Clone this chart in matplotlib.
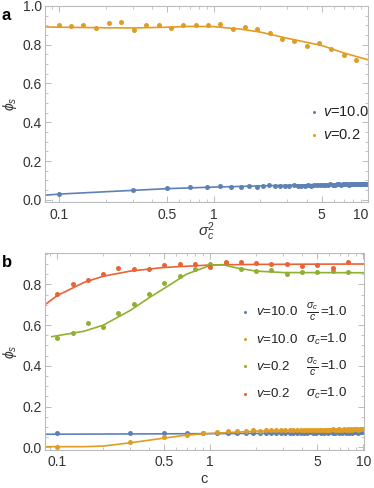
import numpy as np
import matplotlib
matplotlib.use("Agg")
import matplotlib.pyplot as plt
from matplotlib.ticker import FixedLocator, NullFormatter

plt.rcParams['font.family'] = ['Liberation Sans', 'DejaVu Sans']
plt.rcParams['mathtext.fontset'] = 'custom'
plt.rcParams['mathtext.it'] = 'Liberation Sans:italic'
plt.rcParams['mathtext.rm'] = 'Liberation Sans'

BLUE = '#5E81B5'
ORANGE = '#E19C24'
GREEN = '#8FB032'
RED = '#EB6235'

# ---------------- Panel a data ----------------
a_orange_x = [0.1, 0.12, 0.142, 0.172, 0.211, 0.253, 0.304, 0.364, 0.444, 0.526,
              0.632, 0.771, 0.919, 1.10, 1.33, 1.60, 1.92, 2.31, 2.78, 3.31,
              4.0, 4.81, 5.75, 6.98, 8.36]
a_orange_y = [0.900, 0.896, 0.900, 0.886, 0.913, 0.917, 0.874, 0.900, 0.903, 0.884,
              0.900, 0.903, 0.903, 0.905, 0.879, 0.893, 0.879, 0.862, 0.829, 0.817,
              0.791, 0.808, 0.779, 0.747, 0.721]
a_orange_line_x = [0.08, 0.1, 0.2, 0.3, 0.5, 0.7, 1.0, 1.5, 2.0, 3.0, 5.0, 7.0, 10.0]
a_orange_line_y = [0.891, 0.890, 0.887, 0.886, 0.890, 0.894, 0.893, 0.880, 0.865, 0.833, 0.796, 0.757, 0.722]

a_blue_x = [0.1, 0.3, 0.5, 0.7, 0.9, 1.1, 1.3, 1.5, 1.7, 1.9, 2.1, 2.3, 2.5, 2.7, 2.9,
            3.1, 3.3, 3.5, 3.7, 3.9, 4.1, 4.3, 4.5, 4.7, 4.9, 5.1, 5.3, 5.5, 5.7, 5.9,
            6.1, 6.3, 6.5, 6.7, 6.9, 7.1, 7.3, 7.5, 7.7, 7.9, 8.1, 8.3, 8.5, 8.7, 8.9,
            9.1, 9.3, 9.5, 9.7, 9.9]
a_blue_y = [0.031, 0.052, 0.059, 0.064, 0.064, 0.071, 0.068, 0.068, 0.071, 0.069,
            0.072, 0.076, 0.070, 0.071, 0.073, 0.072, 0.075, 0.072, 0.074, 0.073,
            0.075, 0.074, 0.078, 0.076, 0.077, 0.075, 0.077, 0.078, 0.080, 0.077,
            0.079, 0.081, 0.080, 0.079, 0.081, 0.080, 0.082, 0.079, 0.081, 0.082,
            0.080, 0.083, 0.082, 0.081, 0.083, 0.084, 0.082, 0.083, 0.084, 0.083]
a_blue_line_x = [0.08, 0.1, 0.5, 1.0, 5.0, 10.0]
a_blue_line_y = [0.024, 0.030, 0.058, 0.066, 0.080, 0.086]

# ---------------- Panel b data ----------------
b_log_x = [0.1, 0.126, 0.158, 0.2, 0.251, 0.316, 0.398, 0.501, 0.631, 0.794,
           1.0, 1.26, 1.58, 2.0, 2.51, 3.16, 3.98, 5.01, 6.31, 7.94]
b_red_y = [0.751, 0.802, 0.821, 0.852, 0.882, 0.874, 0.875, 0.895, 0.898, 0.901,
           0.883, 0.908, 0.910, 0.903, 0.900, 0.900, 0.890, 0.896, 0.880, 0.910]
b_green_y = [0.538, 0.563, 0.609, 0.589, 0.661, 0.703, 0.753, 0.808, 0.841, 0.875,
             0.898, 0.906, 0.877, 0.865, 0.870, 0.849, 0.862, 0.859, 0.865, 0.862]
b_red_line_x = [0.083, 0.1, 0.15, 0.2, 0.3, 0.5, 1.0, 2.0, 10.0]
b_red_line_y = [0.700, 0.745, 0.810, 0.840, 0.865, 0.883, 0.895, 0.898, 0.900]
b_green_line_x = [0.092, 0.1, 0.15, 0.2, 0.3, 0.4, 0.5, 0.7, 1.0, 1.2, 1.5, 2.0, 3.0, 10.0]
b_green_line_y = [0.543, 0.548, 0.570, 0.600, 0.672, 0.735, 0.780, 0.850, 0.893, 0.897, 0.880, 0.865, 0.858, 0.857]

b_lin_x = a_blue_x
b_blue_y = [0.072, 0.072, 0.070, 0.072, 0.068, 0.070, 0.071, 0.072, 0.071, 0.070,
            0.071, 0.072, 0.071, 0.072, 0.071, 0.072, 0.071, 0.072, 0.070, 0.072,
            0.071, 0.072, 0.073, 0.071, 0.072, 0.073, 0.072, 0.071, 0.073, 0.072,
            0.073, 0.072, 0.071, 0.073, 0.072, 0.073, 0.072, 0.073, 0.072, 0.073,
            0.072, 0.073, 0.072, 0.073, 0.074, 0.073, 0.072, 0.073, 0.074, 0.073]
b_orange_y = [0.003, 0.025, 0.049, 0.062, 0.068, 0.074, 0.080, 0.082, 0.079, 0.083,
              0.082, 0.084, 0.083, 0.084, 0.085, 0.084, 0.085, 0.086, 0.084, 0.085,
              0.086, 0.085, 0.086, 0.087, 0.085, 0.086, 0.087, 0.086, 0.087, 0.086,
              0.087, 0.088, 0.086, 0.087, 0.088, 0.087, 0.086, 0.088, 0.087, 0.088,
              0.087, 0.088, 0.087, 0.088, 0.089, 0.088, 0.087, 0.088, 0.089, 0.088]
b_blue_line_x = [0.083, 1.0, 10.0]
b_blue_line_y = [0.064, 0.067, 0.071]
b_orange_line_x = [0.083, 0.15, 0.2, 0.3, 0.5, 0.7, 1.0, 2.0, 5.0, 10.0]
b_orange_line_y = [0.003, 0.003, 0.006, 0.022, 0.045, 0.060, 0.068, 0.079, 0.084, 0.086]

x_major = [0.1, 0.5, 1, 5, 10]
x_major_labels = ['0.1', '0.5', '1', '5', '10']
x_minor = [0.09, 0.2, 0.3, 0.4, 0.6, 0.7, 0.8, 0.9, 2, 3, 4, 6, 7, 8, 9]

fig = plt.figure(figsize=(3.74, 4.88), dpi=100)
ax_a = fig.add_axes([0.120, 0.586, 0.864, 0.402])
ax_b = fig.add_axes([0.120, 0.078, 0.853, 0.404])

FRAME = '#BBBBBB'
TXT = '#333333'
ms = 3.6
lw = 1.2

def style(ax, ymax):
    ax.set_xscale('log')
    ax.xaxis.set_major_locator(FixedLocator(x_major))
    ax.set_xticklabels(x_major_labels)
    ax.xaxis.set_minor_locator(FixedLocator(x_minor))
    ax.xaxis.set_minor_formatter(NullFormatter())
    ax.set_yticks([0.0, 0.2, 0.4, 0.6, 0.8, 1.0] if ymax >= 1 else [0.0, 0.2, 0.4, 0.6, 0.8])
    ax.set_yticks(np.arange(0, ymax + 0.001, 0.05), minor=True)
    for s in ax.spines.values():
        s.set_color(FRAME)
        s.set_linewidth(0.8)
    ax.tick_params(which='both', direction='in', top=True, right=True, colors=FRAME,
                   labelcolor=TXT, labelsize=10)
    ax.tick_params(which='major', length=4, width=0.7)
    ax.tick_params(which='minor', length=2, width=0.6)
    ax.tick_params(axis='x', which='major', pad=4)
    ax.tick_params(axis='y', which='major', pad=2)

# Panel a
ax_a.plot(a_orange_line_x, a_orange_line_y, color=ORANGE, lw=lw)
ax_a.plot(a_blue_line_x, a_blue_line_y, color=BLUE, lw=lw)
ax_a.plot(a_blue_x, a_blue_y, 'o', color=BLUE, ms=ms, mew=0)
ax_a.plot(a_orange_x, a_orange_y, 'o', color=ORANGE, ms=ms, mew=0)
ax_a.set_xlim(0.0807, 10)
ax_a.set_ylim(-0.011, 1.0)
style(ax_a, 1.0)
ax_a.get_xticklabels()[-1].set_horizontalalignment('right')
ax_a.get_xticklabels()[-1].set_x(10)
ax_a.set_ylabel(r'$\phi_s$', color=TXT, fontsize=10, labelpad=3)
ax_a.set_xlabel(r'$\sigma_c^2$', color=TXT, fontsize=11, labelpad=-1)

la = [(r'$v$=10.0', BLUE), (r'$v$=0.2', ORANGE)]
for i, (t, c) in enumerate(la):
    y = 0.46 - i * 0.118
    ax_a.plot([0.833], [y], 'o', color=c, ms=2.2, mew=0, transform=ax_a.transAxes, clip_on=False)
    ax_a.text(0.862, y, t, transform=ax_a.transAxes, fontsize=10.5, color='#222222',
              va='center', ha='left')

# Panel b
ax_b.plot(b_red_line_x, b_red_line_y, color=RED, lw=lw)
ax_b.plot(b_green_line_x, b_green_line_y, color=GREEN, lw=lw)
ax_b.plot(b_blue_line_x, b_blue_line_y, color=BLUE, lw=lw)
ax_b.plot(b_orange_line_x, b_orange_line_y, color=ORANGE, lw=lw)
ax_b.plot(b_lin_x, b_blue_y, 'o', color=BLUE, ms=ms, mew=0)
ax_b.plot(b_lin_x, b_orange_y, 'o', color=ORANGE, ms=ms, mew=0)
ax_b.plot(b_log_x, b_green_y, 'o', color=GREEN, ms=ms, mew=0)
ax_b.plot(b_log_x, b_red_y, 'o', color=RED, ms=ms, mew=0)
ax_b.set_xlim(0.083, 10.1)
ax_b.set_ylim(-0.013, 0.955)
style(ax_b, 0.95)
ax_b.set_ylabel(r'$\phi_s$', color=TXT, fontsize=10, labelpad=3)
ax_b.set_xlabel('c', color=TXT, fontsize=10.5, labelpad=2)

lb_v = [r'$v$=10.0', r'$v$=10.0', r'$v$=0.2', r'$v$=0.2']
lb_frac = [True, False, True, False]
lb_c = [BLUE, ORANGE, GREEN, RED]
for i in range(4):
    y = 0.70 - i * 0.138
    ax_b.plot([0.627], [y], 'o', color=lb_c[i], ms=2.2, mew=0, transform=ax_b.transAxes, clip_on=False)
    ax_b.text(0.663, y, lb_v[i], transform=ax_b.transAxes, fontsize=9.6, color='#222222',
              va='center', ha='left')
    if lb_frac[i]:
        ax_b.text(0.818, y, r'$\frac{\sigma_c}{c}$', transform=ax_b.transAxes, fontsize=11,
                  color='#222222', va='center', ha='left')
        ax_b.text(0.862, y, '=1.0', transform=ax_b.transAxes, fontsize=9.6, color='#222222',
                  va='center', ha='left')
    else:
        ax_b.text(0.818, y, r'$\sigma_c$=1.0', transform=ax_b.transAxes, fontsize=9.6,
                  color='#222222', va='center', ha='left')

fig.text(0.005, 0.983, 'a', fontsize=12, fontweight='bold', va='top', ha='left')
fig.text(0.005, 0.478, 'b', fontsize=12, fontweight='bold', va='top', ha='left')

fig.savefig('out.png', dpi=100)
